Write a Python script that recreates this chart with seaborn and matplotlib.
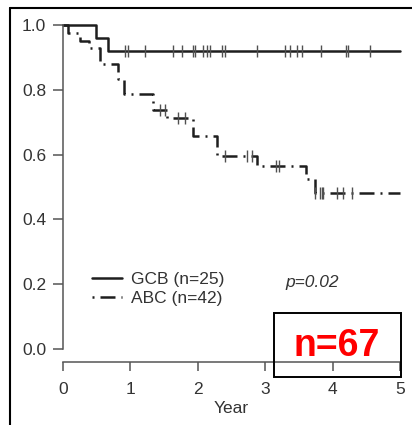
import numpy as np
import pandas as pd
import matplotlib
matplotlib.use("Agg")
import matplotlib.pyplot as plt
import seaborn as sns
from matplotlib.lines import Line2D
from matplotlib.patches import Rectangle

# ---- data ----
gcb_times = [0.0, 0.49, 0.67, 5.0]
gcb_surv = [1.0, 0.96, 0.92, 0.92]
gcb_censor = [0.92, 0.96, 1.22, 1.63, 1.77, 1.93, 1.96, 2.08, 2.14, 2.18, 2.36,
              2.40, 2.88, 3.29, 3.37, 3.47, 3.55, 3.83, 4.20, 4.23, 4.55]

abc_times = [0.0, 0.07, 0.25, 0.38, 0.55, 0.82, 0.90, 1.34, 1.54, 1.93, 2.29,
             2.88, 3.60, 3.74, 5.0]
abc_surv = [1.0, 0.976, 0.952, 0.929, 0.881, 0.833, 0.786, 0.738, 0.712, 0.658,
            0.597, 0.566, 0.526, 0.483, 0.483]
abc_censor = [1.44, 1.51, 1.71, 1.81, 2.40, 2.73, 2.80, 3.16, 3.20, 3.74, 3.81,
              3.84, 3.86, 4.07, 4.15, 4.29]

labels = ["GCB (n=25)", "ABC (n=42)"]
x_ticks = [0, 1, 2, 3, 4, 5]
y_ticks = [0.0, 0.2, 0.4, 0.6, 0.8, 1.0]
y_ticklabels = ["0.0", "0.2", "0.4", "0.6", "0.8", "1.0"]
x_label = "Year"
p_text = "p=0.02"
n_text = "n=67"


def level_at(times, surv, t):
    idx = np.searchsorted(np.asarray(times), np.asarray(t), side="right") - 1
    return np.asarray(surv)[idx]


sns.set_style("white")
plt.rcParams["font.family"] = ["Liberation Sans", "DejaVu Sans"]
FS = 12.5

W, H = 412, 425
fig = plt.figure(figsize=(W / 100, H / 100), dpi=100)
x0, x1 = 63, 400
ytop, ybot = 18.5, 362
ax = fig.add_axes([x0 / W, 1 - ybot / H, (x1 - x0) / W, (ybot - ytop) / H])

line_col = "#1e1e1e"
gcb_df = pd.DataFrame({"t": gcb_times, "s": gcb_surv})
abc_df = pd.DataFrame({"t": abc_times, "s": abc_surv})

dash_abc = (0, (6.0, 2.4, 0.8, 2.4))

sns.lineplot(data=gcb_df, x="t", y="s", ax=ax, drawstyle="steps-post",
             color=line_col, linewidth=1.8, estimator=None, sort=False)
sns.lineplot(data=abc_df, x="t", y="s", ax=ax, drawstyle="steps-post",
             color=line_col, linewidth=1.8, estimator=None, sort=False)
ax.lines[0].set_clip_on(False)
ax.lines[1].set_clip_on(False)
ax.lines[1].set_linestyle(dash_abc)

cen_col = "#505050"
sns.scatterplot(x=gcb_censor, y=level_at(gcb_times, gcb_surv, gcb_censor), ax=ax,
                marker="|", s=80, linewidth=1.0, color=cen_col, zorder=3)
sns.scatterplot(x=abc_censor, y=level_at(abc_times, abc_surv, abc_censor), ax=ax,
                marker="|", s=80, linewidth=1.0, color=cen_col, zorder=3)

ax.set_xlim(0, 5)
ax.set_ylim(-0.04, 1.02)
ax.set_xticks(x_ticks)
ax.set_yticks(y_ticks)
ax.set_yticklabels(y_ticklabels)
ax.set_xlabel(x_label, fontsize=FS, color="#333333", labelpad=3)
ax.set_ylabel("")

for s in ["top", "right"]:
    ax.spines[s].set_visible(False)
spine_col = "#555555"
ax.spines["left"].set_bounds(0, 1)
ax.spines["bottom"].set_bounds(0, 5)
for s in ["left", "bottom"]:
    ax.spines[s].set_color(spine_col)
    ax.spines[s].set_linewidth(1.1)
ax.tick_params(axis="y", length=7, width=1.1, color=spine_col, pad=5,
               labelsize=FS, labelcolor="#333333", left=True)
ax.tick_params(axis="x", length=6.5, width=1.1, color=spine_col, pad=8,
               labelsize=FS, labelcolor="#333333", bottom=True)

# legend
handles = [Line2D([], [], color=line_col, lw=1.8),
           Line2D([], [], color=line_col, lw=1.8, linestyle=(0, (0.8, 2.4, 6.0, 2.4)))]
ax.legend(handles, labels, loc="upper left", frameon=False,
          bbox_to_anchor=((92 - x0) / (x1 - x0), 1 - (272 - ytop) / (ybot - ytop)),
          fontsize=FS, handlelength=1.75, handletextpad=0.5, labelspacing=0.2,
          borderaxespad=0, borderpad=0, labelcolor="#333333")

fig.text(285 / W, 1 - 283 / H, p_text, fontsize=FS, style="italic",
         color="#333333", va="center", ha="left")

# red n=67 box
fig.add_artist(Rectangle((274 / W, 1 - 377 / H), 127 / W, 64 / H,
                         transform=fig.transFigure, fill=False,
                         edgecolor="black", linewidth=1.4))
fig.text(337 / W, 1 - 346 / H, n_text, fontsize=27, fontweight="bold",
         color="#ff0000", ha="center", va="center")

# outer frame (left and top)
fig.add_artist(Line2D([10 / W, 10 / W], [0, 1 - 8 / H], transform=fig.transFigure,
                      color="black", lw=1.5))
fig.add_artist(Line2D([10 / W, 1], [1 - 8 / H, 1 - 8 / H], transform=fig.transFigure,
                      color="black", lw=1.5))

fig.savefig("out.png", dpi=100)
